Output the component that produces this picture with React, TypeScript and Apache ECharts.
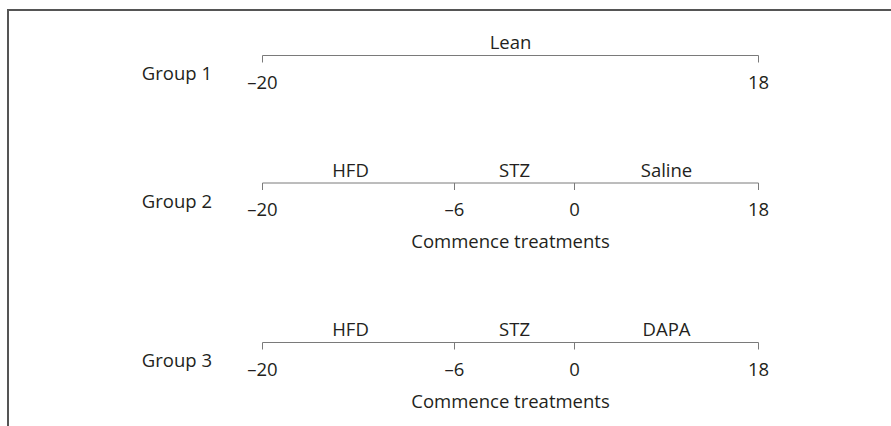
import { useEffect, useRef } from "react";
import * as echarts from "echarts";

// ---- data ----
const groupNames = ["Group 1", "Group 2", "Group 3"];
const group1Ticks = [-20, 18];
const group2Ticks = [-20, -6, 0, 18];
const group3Ticks = [-20, -6, 0, 18];
const group1Phases = ["Lean"];
const group2Phases = ["HFD", "STZ", "Saline"];
const group3Phases = ["HFD", "STZ", "DAPA"];
const groupNotes = ["", "Commence treatments", "Commence treatments"];

const allTicks = [group1Ticks, group2Ticks, group3Ticks];
const allPhases = [group1Phases, group2Phases, group3Phases];

// ---- layout (schematic, not to scale) ----
const anchorWeeks = [-20, -6, 0, 18];
const anchorPos = [0, 192, 312, 496];
const rowY = [55.5, 183, 342.5];
const W = 891;
const H = 426;
const FONT = "'Open Sans', 'Noto Sans', sans-serif";
const TEXT = "#231f20";
const LINE = "#7a7a7a";

function schematic(week: number): number {
  for (let i = 0; i < anchorWeeks.length - 1; i++) {
    const a = anchorWeeks[i], b = anchorWeeks[i + 1];
    if (week >= a && week <= b) {
      return anchorPos[i] + ((week - a) / (b - a)) * (anchorPos[i + 1] - anchorPos[i]);
    }
  }
  return week < anchorWeeks[0] ? anchorPos[0] : anchorPos[anchorPos.length - 1];
}

function fmt(v: number): string {
  return v < 0 ? "\u2013" + Math.abs(v) : String(v);
}

function txt(text: string, x: number, y: number, align: string) {
  return {
    type: "text",
    x,
    y,
    style: {
      text,
      fill: TEXT,
      fontSize: 18.5,
      fontFamily: FONT,
      align,
      verticalAlign: "middle",
    },
  };
}

export default function App() {
  const ref = useRef<HTMLDivElement>(null);
  useEffect(() => {
    if (!ref.current) return;
    const chart = echarts.init(ref.current, undefined, { renderer: "svg" });
    chart.setOption({
      animation: false,
      backgroundColor: "#ffffff",
      grid: { left: 262.5, right: W - 758.5, top: 0, bottom: 0 },
      xAxis: { type: "value", min: 0, max: 496, show: false },
      yAxis: { type: "value", min: 0, max: H, inverse: true, show: false },
      graphic: [
        { type: "line", shape: { x1: 7, y1: 10, x2: W, y2: 10 }, style: { stroke: "#555555", lineWidth: 2 } },
        { type: "line", shape: { x1: 8, y1: 9, x2: 8, y2: H }, style: { stroke: "#555555", lineWidth: 2 } },
      ],
      series: [
        {
          type: "custom",
          coordinateSystem: "cartesian2d",
          data: groupNames.map((_, i) => [i]),
          renderItem: (params: any, api: any) => {
            const i = params.dataIndex;
            const ticks = allTicks[i];
            const phases = allPhases[i];
            const y = rowY[i];
            const pt = (w: number) => api.coord([schematic(w), y]);
            const start = pt(ticks[0]);
            const end = pt(ticks[ticks.length - 1]);
            const children: any[] = [];
            children.push({
              type: "line",
              shape: { x1: start[0], y1: start[1], x2: end[0], y2: end[1] },
              style: { stroke: LINE, lineWidth: 1 },
            });
            ticks.forEach((t) => {
              const p = pt(t);
              children.push({
                type: "line",
                shape: { x1: p[0], y1: p[1], x2: p[0], y2: p[1] + 7 },
                style: { stroke: LINE, lineWidth: 1 },
              });
              children.push(txt(fmt(t), p[0], p[1] + 25.5, "center"));
            });
            phases.forEach((ph, k) => {
              const a = pt(ticks[k]);
              const b = pt(ticks[k + 1]);
              const nudge = phases.length > 1 && k === 0 ? -8 : 0;
              children.push(txt(ph, (a[0] + b[0]) / 2 + nudge, a[1] - 14, "center"));
            });
            children.push(txt(groupNames[i], start[0] - 50.5, start[1] + 17, "right"));
            if (groupNotes[i]) {
              children.push(txt(groupNotes[i], (start[0] + end[0]) / 2, start[1] + 57.5, "center"));
            }
            return { type: "group", children };
          },
        },
      ],
    });
    return () => chart.dispose();
  }, []);
  return (
    <div
      ref={ref}
      style={{ position: "fixed", left: 0, top: 0, width: W, height: H, background: "#fff" }}
    />
  );
}
